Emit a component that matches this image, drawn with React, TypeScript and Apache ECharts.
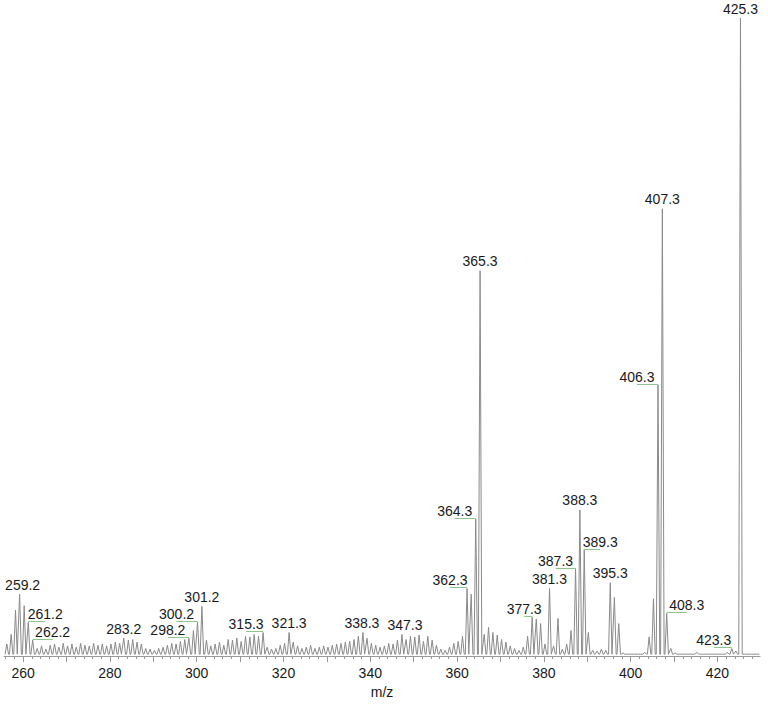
import { useEffect, useRef } from "react";
import * as echarts from "echarts";

// Relative intensity (%) of the peak at each nominal mass, starting at 256
const mzStart = 256;
const intensities = [
  1.9, 3.4, 7.2, 9.7, 7.9, 5.3, 2.5, 1.2, 1.6, 1.1, // 256-265
  1.7, 1.9, 1.4, 2.0, 1.6, 1.9, 1.4, 2.0, 1.7, 1.6, // 266-275
  2.0, 1.7, 1.9, 1.6, 1.9, 2.2, 2.0, 2.8, 2.5, 2.6, // 276-285
  2.2, 1.9, 1.2, 1.1, 0.9, 1.2, 1.4, 1.7, 2.0, 1.9, // 286-295
  2.3, 2.6, 2.8, 4.0, 5.3, 7.8, 2.5, 1.6, 1.9, 2.2, // 296-305
  1.7, 2.6, 2.5, 2.8, 2.3, 3.1, 3.0, 3.4, 3.1, 3.7, // 306-315
  1.4, 1.1, 1.2, 1.7, 2.0, 3.7, 2.2, 1.6, 1.2, 1.4, // 316-325
  1.7, 1.2, 1.4, 1.6, 1.4, 1.7, 1.9, 2.0, 2.2, 2.3, // 326-335
  2.6, 3.1, 3.7, 2.8, 2.0, 1.7, 1.4, 1.6, 2.0, 1.9, // 336-345
  2.5, 3.4, 2.6, 3.1, 3.0, 3.3, 2.3, 3.1, 2.5, 1.7, // 346-355
  1.1, 0.9, 1.4, 2.0, 2.3, 3.1, 10.6, 9.7, 21.5, 60.4, // 356-365
  3.4, 4.5, 3.7, 3.3, 2.6, 2.2, 1.6, 1.2, 0.9, 1.4, // 366-375
  3.1, 6.1, 5.8, 5.1, 1.9, 10.6, 1.6, 5.9, 1.1, 1.9, // 376-385
  4.0, 13.7, 22.9, 16.7, 3.7, 0.9, 0.8, 1.1, 0.9, 11.5, // 386-395
  9.2, 5.1, 0.5, 0.3, 0.3, 0.3, 0.3, 0.6, 3.0, 9.0, // 396-405
  42.5, 70.1, 6.7, 1.2, 0.5, 0.3, 0.3, 0.3, 0.3, 0.6, // 406-415
  0.3, 0.3, 0.3, 0.3, 0.3, 0.3, 0.6, 1.2, 0.8, 100, // 416-425
  0.3, 0.3, 0.3, 0.3, // 426-429
];

// Annotated peaks
const peakLabels = [
  "259.2", "261.2", "262.2", "283.2", "298.2", "300.2", "301.2", "315.3",
  "321.3", "338.3", "347.3", "362.3", "364.3", "365.3", "377.3", "381.3",
  "387.3", "388.3", "389.3", "395.3", "406.3", "407.3", "408.3", "423.3", "425.3",
];

// Label placement (horizontal offset in px from the peak, and whether a leader line is drawn)
const labelDx = [
  3, 17, 20, 0, -21, -21, 0, -17,
  0, -1, 3, -17, -21, 0, -8, 0,
  -20, 0, 16, 0, -21, 0, 20, -18, 0,
];
const labelLeader = [
  false, true, true, false, true, true, false, true,
  false, false, false, true, true, false, true, false,
  true, false, true, false, true, false, true, true, false,
];

const axisLabelValues = [260, 280, 300, 320, 340, 360, 380, 400, 420];
const majorTickValues = [260, 270, 280, 290, 300, 310, 320, 330, 340, 350, 360, 370, 380, 390, 400, 410, 420];
const minorTickValues: number[] = [];
for (let v = 256; v <= 428; v += 2) minorTickValues.push(v);

const X_MIN = 255.6;
const X_MAX = 429.8;
const BASE = 0.3;
const HALF_WIDTH = 0.4;
const FONT = '"Liberation Sans", Arial, sans-serif';

const labeledMz = peakLabels.map((s) => parseFloat(s));

function peakMz(i: number): number {
  const nominal = mzStart + i;
  const hit = labeledMz.find((m) => Math.floor(m) === nominal);
  return hit !== undefined ? hit : nominal + 0.25;
}

export default function App() {
  const ref = useRef<HTMLDivElement>(null);

  useEffect(() => {
    if (!ref.current) return;
    const chart = echarts.init(ref.current, undefined, { renderer: "svg" });

    const profile: number[][] = [];
    intensities.forEach((h, i) => {
      const mz = peakMz(i);
      profile.push([mz - HALF_WIDTH, BASE], [mz, h], [mz + HALF_WIDTH, BASE]);
    });

    const labelData = labeledMz.map((m) => [m, intensities[Math.floor(m) - mzStart]]);

    chart.setOption({
      animation: false,
      grid: { left: 4, right: 8, top: 18, bottom: 43, containLabel: false },
      xAxis: [
        {
          type: "value",
          min: X_MIN,
          max: X_MAX,
          position: "bottom",
          name: "m/z",
          nameLocation: "middle",
          nameGap: 27,
          nameTextStyle: { fontSize: 14, color: "#1a1a1a", fontFamily: FONT },
          axisLine: { show: true, onZero: false, lineStyle: { color: "#999999", width: 1 } },
          axisTick: { show: true, customValues: majorTickValues, length: 6, lineStyle: { color: "#999999" } },
          axisLabel: { customValues: axisLabelValues, margin: 10, fontSize: 14, color: "#1a1a1a", fontFamily: FONT },
          splitLine: { show: false },
        },
        {
          type: "value",
          min: X_MIN,
          max: X_MAX,
          position: "bottom",
          axisLine: { show: false },
          axisTick: { show: true, customValues: minorTickValues, length: 3, lineStyle: { color: "#999999" } },
          axisLabel: { show: false },
          splitLine: { show: false },
        },
      ],
      yAxis: { type: "value", min: 0, max: 100, show: false },
      series: [
        {
          type: "line",
          data: profile,
          showSymbol: false,
          symbol: "none",
          lineStyle: { color: "#8a8a8a", width: 1 },
          silent: true,
          z: 2,
        },
        {
          type: "custom",
          coordinateSystem: "cartesian2d",
          clip: false,
          silent: true,
          data: labelData,
          z: 3,
          renderItem: (params: any, api: any) => {
            const i = params.dataIndex;
            const p = api.coord([api.value(0), api.value(1)]);
            const leader = labelLeader[i];
            const tx = p[0] + labelDx[i];
            const ty = p[1] - (leader ? 8 : 9.5);
            const children: any[] = [
              {
                type: "text",
                style: {
                  text: peakLabels[i],
                  x: tx,
                  y: ty,
                  textAlign: "center",
                  textVerticalAlign: "middle",
                  align: "center",
                  verticalAlign: "middle",
                  font: `14px ${FONT}`,
                  fill: "#1a1a1a",
                },
              },
            ];
            if (leader) {
              const ly = Math.round(p[1] - 1) + 0.5;
              children.push({
                type: "line",
                shape: { x1: tx, y1: ly, x2: p[0], y2: ly },
                style: { stroke: "#8cc68c", lineWidth: 1 },
              });
            }
            return { type: "group", children };
          },
        },
      ],
    });

    return () => chart.dispose();
  }, []);

  return (
    <div
      ref={ref}
      style={{ position: "absolute", left: 0, top: 0, width: 768, height: 704 }}
    />
  );
}
